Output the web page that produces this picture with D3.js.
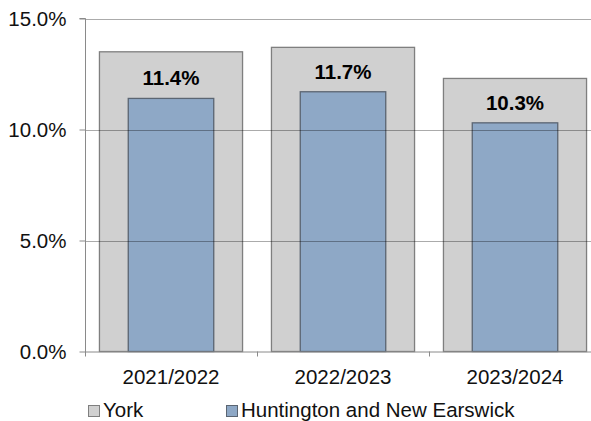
<!DOCTYPE html>
<html>
<head>
<meta charset="utf-8">
<script src="https://cdn.jsdelivr.net/npm/d3@7"></script>
<style>
  html, body { margin: 0; padding: 0; background: #fff; }
  svg { display: block; font-family: "Liberation Sans", Arial, sans-serif; }
</style>
</head>
<body>
<svg id="chart" width="591" height="421"></svg>
<script>
const categories = ["2021/2022", "2022/2023", "2023/2024"];
const yorkValues = [13.5, 13.7, 12.3];
const hneValues = [11.4, 11.7, 10.3];
const seriesNames = ["York", "Huntington and New Earswick"];
const yTicks = [0, 5, 10, 15];

const svg = d3.select("#chart");
const pLeft = 85, pRight = 601, pTop = 18.5, pBottom = 351.5;
const fs = 20.5;

const x = d3.scaleBand().domain(categories).range([pLeft, pRight]).padding(0);
const y = d3.scaleLinear().domain([0, 15]).range([pBottom, pTop]);
const bw = x.bandwidth();
const yorkW = bw * 0.832, hneW = bw * 0.497;

// bars
const g = svg.append("g");
g.selectAll("rect.york").data(categories).join("rect")
  .attr("class", "york")
  .attr("x", (d) => x(d) + (bw - yorkW) / 2)
  .attr("y", (d, i) => y(yorkValues[i]))
  .attr("width", yorkW)
  .attr("height", (d, i) => y(0) - y(yorkValues[i]))
  .attr("fill", "#d0d0d0").attr("stroke", "#7f7f7f").attr("stroke-width", 1.3);

g.selectAll("rect.hne").data(categories).join("rect")
  .attr("class", "hne")
  .attr("x", (d) => x(d) + (bw - hneW) / 2)
  .attr("y", (d, i) => y(hneValues[i]))
  .attr("width", hneW)
  .attr("height", (d, i) => y(0) - y(hneValues[i]))
  .attr("fill", "#8ea8c6").attr("stroke", "#5b6572").attr("stroke-width", 1.3);

// gridlines on top (semi-transparent)
svg.append("g").selectAll("line").data(yTicks.filter(t => t > 0)).join("line")
  .attr("x1", pLeft).attr("x2", 591)
  .attr("y1", d => Math.round(y(d)) + 0.5).attr("y2", d => Math.round(y(d)) + 0.5)
  .attr("stroke", "rgba(0,0,0,0.33)").attr("stroke-width", 1.2);

// y axis
const yAxis = d3.axisLeft(y).tickValues(yTicks).tickSize(6).tickPadding(13)
  .tickFormat(d => d3.format(".1f")(d) + "%");
const ya = svg.append("g").attr("transform", `translate(${pLeft + 0.5},0)`).call(yAxis);
ya.select(".domain").attr("stroke", "#8a8a8a").attr("d", `M-6,${pTop}H0V${pBottom + 4}`);
ya.selectAll(".tick line").attr("stroke", "#8a8a8a");
ya.selectAll(".tick text").attr("font-size", fs).attr("fill", "#111")
  .attr("font-family", "Liberation Sans, Arial, sans-serif");

// x axis
const xAxis = d3.axisBottom(x).tickSize(0).tickPadding(17);
const xa = svg.append("g").attr("transform", `translate(0,${pBottom + 0.5})`).call(xAxis);
xa.select(".domain").attr("stroke", "#8a8a8a").attr("d", `M${pLeft},0H591`);
xa.selectAll(".tick text").attr("font-size", fs).attr("fill", "#111")
  .attr("font-family", "Liberation Sans, Arial, sans-serif");
// category separator ticks
svg.append("g").selectAll("line").data(categories).join("line")
  .attr("x1", d => Math.round(x(d)) + 0.5).attr("x2", d => Math.round(x(d)) + 0.5)
  .attr("y1", pBottom).attr("y2", pBottom + 5)
  .attr("stroke", "#8a8a8a");

// data labels
svg.append("g").selectAll("text").data(categories).join("text")
  .attr("x", d => x(d) + bw / 2)
  .attr("y", (d, i) => y(hneValues[i]) - 13)
  .attr("text-anchor", "middle")
  .attr("font-size", fs).attr("font-weight", "bold").attr("fill", "#000")
  .text((d, i) => d3.format(".1f")(hneValues[i]) + "%");

// legend
const legendX = [88, 226];
const colors = [["#d0d0d0", "#7f7f7f"], ["#8ea8c6", "#5b6572"]];
const lg = svg.append("g").selectAll("g").data(seriesNames).join("g")
  .attr("transform", (d, i) => `translate(${legendX[i]},405)`);
lg.append("rect").attr("x", 0.5).attr("y", 0.5).attr("width", 11).attr("height", 11)
  .attr("fill", (d, i) => colors[i][0]).attr("stroke", (d, i) => colors[i][1]);
lg.append("text").attr("x", 15).attr("y", 11.7)
  .attr("font-size", fs).attr("fill", "#111").text(d => d);
</script>
</body>
</html>
